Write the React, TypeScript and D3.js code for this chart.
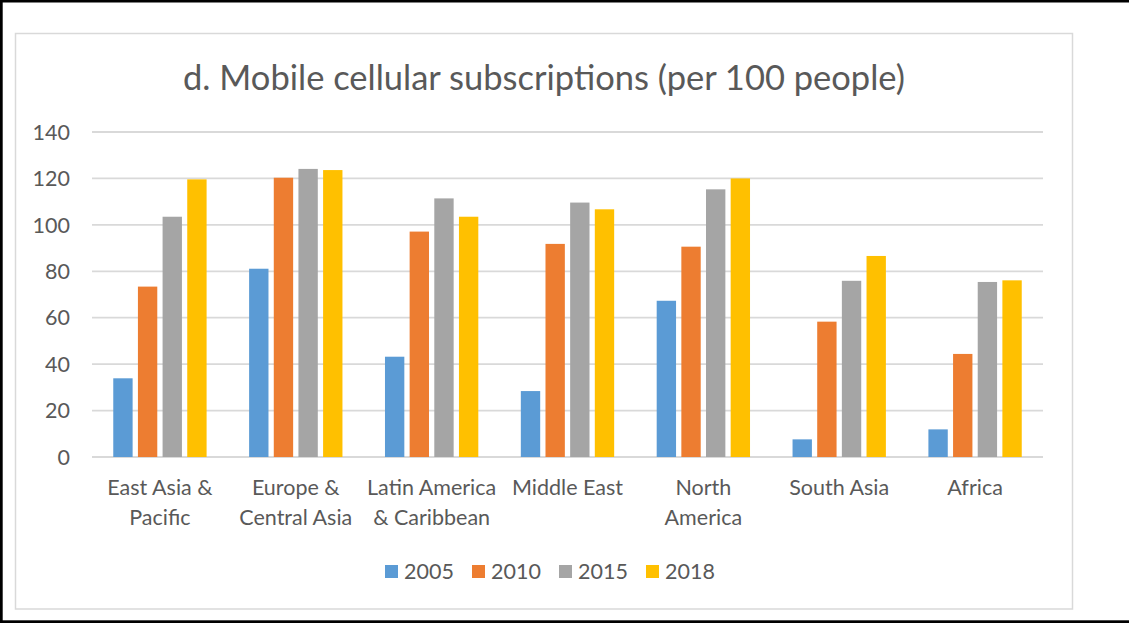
import React from "react";
import * as d3 from "d3";

const categories = [
  "East Asia & Pacific",
  "Europe & Central Asia",
  "Latin America & Caribbean",
  "Middle East",
  "North America",
  "South Asia",
  "Africa",
];
const categoryLines = [
  ["East Asia &", "Pacific"],
  ["Europe &", "Central Asia"],
  ["Latin America", "& Caribbean"],
  ["Middle East"],
  ["North", "America"],
  ["South Asia"],
  ["Africa"],
];
const seriesNames = ["2005", "2010", "2015", "2018"];
const seriesColors = ["#5B9BD5", "#ED7D31", "#A5A5A5", "#FFC000"];
const v2005 = [33.9, 81.1, 43.2, 28.4, 67.3, 7.6, 11.9];
const v2010 = [73.4, 120.3, 97.1, 91.8, 90.6, 58.3, 44.4];
const v2015 = [103.5, 124.1, 111.4, 109.6, 115.3, 75.9, 75.4];
const v2018 = [119.6, 123.6, 103.5, 106.7, 120.0, 86.6, 76.1];
const seriesValues = [v2005, v2010, v2015, v2018];
const yTicks = [0, 20, 40, 60, 80, 100, 120, 140];
const title = "d. Mobile cellular subscriptions (per 100 people)";

const W = 1129;
const H = 623;
const FONT = "Lato, 'Open Sans', sans-serif";
const TEXT = "#595959";
const GRID = "#d9d9d9";
const FS = 21.5;

export default function App() {
  const plotLeft = 92;
  const plotRight = 1043;
  const y = d3.scaleLinear().domain([0, 140]).range([457, 132]);
  const x0 = d3
    .scaleBand<string>()
    .domain(categories)
    .range([plotLeft, plotRight])
    .paddingInner(0.313)
    .paddingOuter(0.1565);
  const x1 = d3
    .scaleBand<string>()
    .domain(seriesNames)
    .range([0, x0.bandwidth()])
    .paddingInner(0.215)
    .paddingOuter(0);

  const legendStart = 385;
  const legendStep = 87;

  return (
    <>
      <style>{`body{margin:0}`}</style>
      <svg width={W} height={H} style={{ display: "block", background: "#fff" }}>
        <rect x={0} y={0} width={W} height={H} fill="#fff" />
        {/* outer black frame (left, top, bottom) */}
        <rect x={0} y={0} width={W} height={2.5} fill="#000" />
        <rect x={0} y={0} width={2.7} height={H} fill="#000" />
        <rect x={0} y={620.3} width={W} height={2.7} fill="#000" />
        {/* chart area border */}
        <rect x={15.5} y={33.5} width={1057} height={575.5} fill="none" stroke={GRID} strokeWidth={1.5} />

        <text x={544} y={90} textAnchor="middle" fontFamily={FONT} fontSize={34.5} fill={TEXT}>
          {title}
        </text>

        {/* gridlines */}
        {yTicks.map((t) => (
          <line key={t} x1={plotLeft} x2={plotRight} y1={y(t)} y2={y(t)} stroke={GRID} strokeWidth={1.8} />
        ))}
        {yTicks.map((t) => (
          <text
            key={"l" + t}
            x={70}
            y={y(t)}
            dy="0.36em"
            textAnchor="end"
            fontFamily={FONT}
            fontSize={FS}
            fill={TEXT}
          >
            {t}
          </text>
        ))}

        {/* bars */}
        {categories.map((c, ci) => (
          <g key={c} transform={`translate(${x0(c)},0)`}>
            {seriesNames.map((s, si) => {
              const v = seriesValues[si][ci];
              return (
                <rect
                  key={s}
                  x={x1(s)}
                  y={y(v)}
                  width={x1.bandwidth()}
                  height={y(0) - y(v)}
                  fill={seriesColors[si]}
                />
              );
            })}
          </g>
        ))}

        {/* category labels */}
        {categories.map((c, ci) => (
          <text
            key={"c" + c}
            x={(x0(c) as number) + x0.bandwidth() / 2}
            y={495}
            textAnchor="middle"
            fontFamily={FONT}
            fontSize={FS}
            fill={TEXT}
          >
            {categoryLines[ci].map((line, li) => (
              <tspan key={li} x={(x0(c) as number) + x0.bandwidth() / 2} dy={li === 0 ? 0 : 30}>
                {line}
              </tspan>
            ))}
          </text>
        ))}

        {/* legend */}
        {seriesNames.map((s, si) => (
          <g key={"lg" + s} transform={`translate(${legendStart + si * legendStep},565)`}>
            <rect x={0} y={0} width={13} height={13} fill={seriesColors[si]} />
            <text x={19} y={6.5} dy="0.36em" fontFamily={FONT} fontSize={FS} fill={TEXT}>
              {s}
            </text>
          </g>
        ))}
      </svg>
    </>
  );
}
